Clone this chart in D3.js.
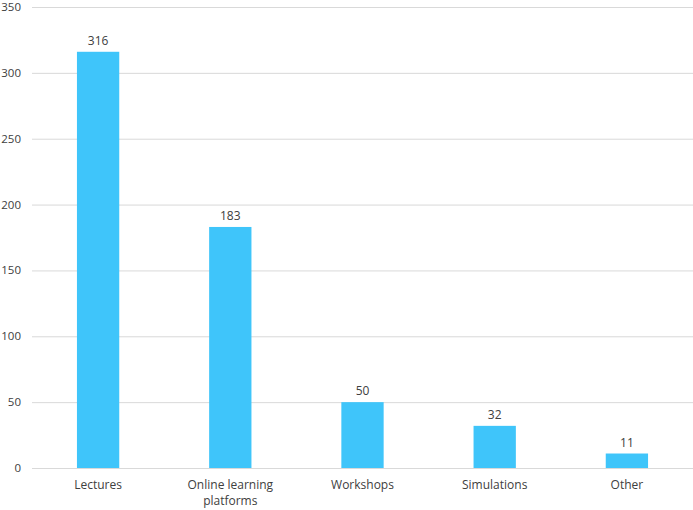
<!DOCTYPE html>
<html>
<head>
<meta charset="utf-8">
<script src="https://cdn.jsdelivr.net/npm/d3@7"></script>
<style>
  body { margin: 0; background: #fff; }
  text { font-family: "Open Sans", sans-serif; font-size: 12px; fill: #404040; }
  text.ylab { font-size: 11.5px; }
</style>
</head>
<body>
<div class="chart"></div>
<script>
var categories = [["Lectures"], ["Online learning", "platforms"], ["Workshops"], ["Simulations"], ["Other"]];
var values = [316, 183, 50, 32, 11];
var yTicks = [0, 50, 100, 150, 200, 250, 300, 350];

var svgWidth = 693;
var svgHeight = 510;
var margin = { top: 7, right: 0, bottom: 42, left: 32 };
var width = svgWidth - margin.left - margin.right;
var height = svgHeight - margin.top - margin.bottom;

var svg = d3.select(".chart")
  .append("svg")
  .attr("width", svgWidth)
  .attr("height", svgHeight);

var chartGroup = svg.append("g")
  .attr("transform", `translate(${margin.left}, ${margin.top})`);

var names = categories.map(c => c.join(" "));

var xScale = d3.scaleBand()
  .domain(names)
  .range([0, width])
  .paddingInner(0.68)
  .paddingOuter(0.34);

var yScale = d3.scaleLinear()
  .domain([0, 350])
  .range([height, 0]);

// gridlines
chartGroup.selectAll(".grid")
  .data(yTicks)
  .enter()
  .append("line")
  .attr("x1", 0)
  .attr("x2", width)
  .attr("y1", d => yScale(d) + 0.5)
  .attr("y2", d => yScale(d) + 0.5)
  .attr("stroke", "#d9d9d9")
  .attr("stroke-width", 1);

// y labels
chartGroup.selectAll(".ylab")
  .data(yTicks)
  .enter()
  .append("text")
  .attr("class", "ylab")
  .attr("x", -11)
  .attr("y", d => yScale(d))
  .attr("dy", "0.35em")
  .attr("text-anchor", "end")
  .text(d => d);

// bars
chartGroup.selectAll("rect")
  .data(values)
  .enter()
  .append("rect")
  .attr("x", (d, i) => xScale(names[i]))
  .attr("y", d => yScale(d))
  .attr("width", xScale.bandwidth())
  .attr("height", d => height - yScale(d))
  .attr("fill", "#3fc5fa");

// value labels
chartGroup.selectAll(".val")
  .data(values)
  .enter()
  .append("text")
  .attr("x", (d, i) => xScale(names[i]) + xScale.bandwidth() / 2)
  .attr("y", d => yScale(d) - 7)
  .attr("text-anchor", "middle")
  .text(d => d);

// category labels
var catLabels = chartGroup.selectAll(".cat")
  .data(categories)
  .enter()
  .append("text")
  .attr("text-anchor", "middle")
  .attr("transform", (d, i) => `translate(${xScale(names[i]) + xScale.bandwidth() / 2}, ${height + 21})`);

catLabels.selectAll("tspan")
  .data(d => d)
  .enter()
  .append("tspan")
  .attr("x", 0)
  .attr("dy", (d, i) => i === 0 ? 0 : 16)
  .text(d => d);
</script>
</body>
</html>
